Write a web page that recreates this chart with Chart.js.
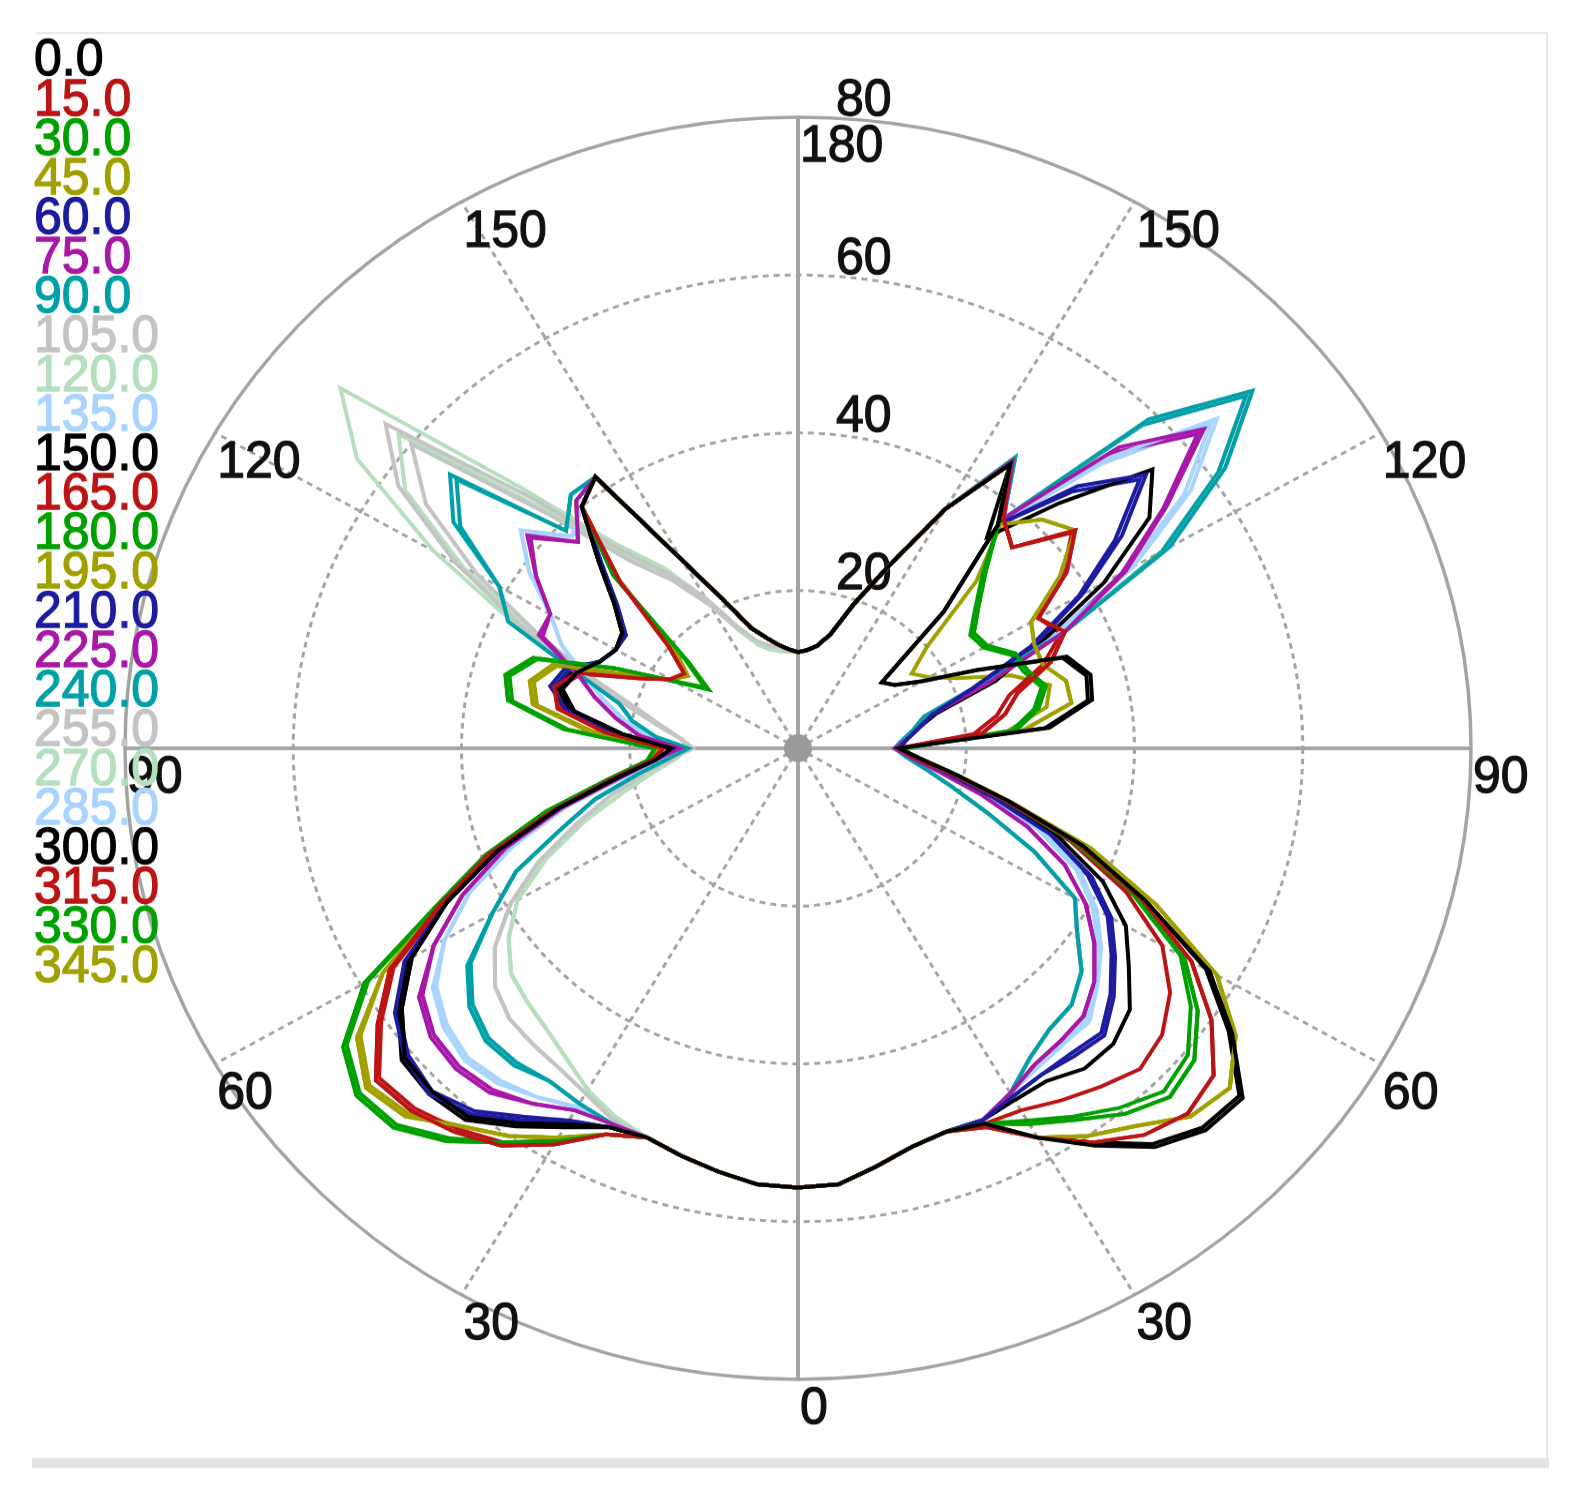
<!DOCTYPE html>
<html>
<head>
<meta charset="utf-8">
<script src="https://cdn.jsdelivr.net/npm/chart.js@4.4.1/dist/chart.umd.min.js"></script>
<style>
html,body{margin:0;padding:0;background:#ffffff;}
#wrap{position:relative;width:1585px;height:1505px;overflow:hidden;background:#fff;}
</style>
</head>
<body>
<div id="wrap"><canvas id="c" width="1585" height="1605" style="position:absolute;left:0;top:0;width:1585px;height:1505px;"></canvas></div>
<script>
// ---------- DATA ----------
// gamma angles (degrees) of the samples, 0 = straight down, 180 = straight up
const GAMMA = [0,5,10,15,20,25,30,35,40,45,50,55,60,65,70,75,80,85,90,95,100,105,110,115,120,125,130,135,140,145,150,155,160,165,170,175,180];
const ANGLE_TICKS = [0,30,60,90,120,150,180];
const RADIAL_TICKS = [20,40,60,80];
const SERIES_NAMES = ['0.0','15.0','30.0','45.0','60.0','75.0','90.0','105.0','120.0','135.0','150.0','165.0','180.0','195.0','210.0','225.0','240.0','255.0','270.0','285.0','300.0','315.0','330.0','345.0'];

// left half: gamma 0..180 (37 values); right half: gamma 5..175 (35 values)
const C000_L = [55.7,55.5,54.5,53.5,52.5, 53,55,58,61,61.5,61,57.5,53,46,38,29.5,22,17, 15,21,27,29,28,26,25,25.5,28.5,33.5,40,42, 27.5,20.5,16.2,14.5,13.3,12.6,12.2];
const C000_R = [55.5,53.8,52.3,51.7, 52.5,57,61.5,66,68.5,69,63,56.5,45.5,36,26,19,14.5, 12,30,35.5,36,34,23.5,17,14,13,24.5,37,44, 35,25.5,19.5,15,13.2,12.5];

const C015_L = [55.7,55.5,54.5,53.5,52.5, 54,58,61.5,63.5,65,65.5,61,56,47,39,30,22.5,17.5, 16,23,29,30,28,21,17.5,16.5,20,30,40,42, 27.5,20.5,16.2,14.5,13.3,12.6,12.2];
const C015_R = [55.5,53.8,52.3,51.7, 53,57,61,64,65.5,64.5,60,54,45,35.5,25.5,18.5,14, 12,22,25,27,32,35,33,39,43,36,38,44, 35,25.5,19.5,15,13.2,12.5];

const C030_L = [55.7,55.5,54.5,53.5,52.5, 54,57.5,61,65,68,68.5,66,59.5,47.5,39.5,31,23,18, 17,28,35,36,33.5,24,17,13,17,31,40,42, 27.5,20.5,16.2,14.5,13.3,12.6,12.2];
const C030_R = [55.5,53.8,52.3,51.7, 52.5,55,57.5,60.5,62.5,61.5,58,53,44.5,35,25.5,18.5,14, 12.5,26,29,30.5,29,28.5,26,25.5,28,31.5,37,44, 35,25.5,19.5,15,13.2,12.5];

const C045_L = [55.7,55.5,54.5,53.5,52.5, 54,57,60,62.5,66,67,64,57,47,39,30.5,22.5,17.5, 16.5,25,32,33,31,22,17.5,16,19,30,40,42, 27.5,20.5,16.2,14.5,13.3,12.6,12.2];
const C045_R = [55.5,53.8,52.3,51.7, 52.5,57,60,62.5,66,67,63.5,57.5,47,37,26,19,14.5, 12,27,33,33,31,31,32,38,43,41,37,44, 35,25.5,19.5,15,13.2,12.5];

const C060_L = [55.7,55.5,54.5,53.5,52.5, 53,54.5,57.5,60.5,62,61,58.5,54,46,38,29.5,22,17, 15,22,28,30.5,29.5,26,25,25,28,33,40,42, 27.5,20.5,16.2,14.5,13.3,12.6,12.2];
const C060_R = [55.5,53.8,52.3,51.7, 52,51,50.5,51,51.5,49,46,43,38.5,32,24,18,14, 12,13,14.5,16.5,22,31,39,47,54,47,37,44, 35,25.5,19.5,15,13.2,12.5];

const C075_L = [55.7,55.5,54.5,53.5,52.5, 52.5,53,55,57,57.5,57,55,50,44,37,29,21.5,17, 14,19,22,25,28,34,34,38,42,37,41,42, 27.5,20.5,16.2,14.5,13.3,12.6,12.2];
const C075_R = [55.5,53.8,52.3,51.7, 52,50.5,49,48.5,48,46,43,39.5,35,29,22.5,17,13.5, 11.5,13,14.5,16.5,24,35,45,53.5,63,54,38,44.5, 35,25.5,19.5,15,13.2,12.5];

const C090_L = [55.7,55.5,54.5,53.5,52.5, 52.5,52,51.5,52.5,52.5,51,48,42,37,30,25,19.5,15.5, 13,17,20,22,28,38,41,50,54,39,42,42, 27.5,20.5,16.2,14.5,13.3,12.6,12.2];
const C090_R = [55.5,53.8,52.3,51.7, 52,50.5,48,46.5,46,44,40.5,38,31,24,19,15.5,13, 11.5,12.5,14,15.5,22,35,51,62,70.5,59,38,45, 35,25.5,19.5,15,13.2,12.5];

const C105_L = [55.7,55.5,54.5,53.5,52.5, 52,50.5,49.5,49,48.5,47,44,39.5,34,28,23,18.5,15, 12.5,14,17,21,27,36,47,58,64,45,33,27, 22,17,14.5,13.5,13,12.5,12.2];
const C105_R = [55.5,53.8,52.3,51.7, 52,50.5,48,46.5,46,44,40.5,38,31,24,19,15.5,13, 11.5,12.5,14,15.5,22,35,51,62,70.5,59,38,45, 35,25.5,19.5,15,13.2,12.5];

const C120_L = [55.7,55.5,54.5,53.5,52.5, 51.5,50,48,46.5,45.5,44.5,42,38.5,33,27,21.5,17.5,14.5, 13,14,17,21,28,37,50,64,71,47,34,28, 22,17,14,13,12.5,12.3,12.2];
const C120_R = [55.5,53.8,52.3,51.7, 52,50.5,48,46.5,46,44,40.5,38,31,24,19,15.5,13, 11.5,12.5,14,15.5,22,35,51,62,70.5,59,38,45, 35,25.5,19.5,15,13.2,12.5];

const C135_L = [55.7,55.5,54.5,53.5,52.5, 52.5,52.5,54,55.5,56,55,53,48.5,43,36,28.5,21,16.5, 13.5,18,21,24,27,31,34,39,43,38,40,42, 27.5,20.5,16.2,14.5,13.3,12.6,12.2];
const C135_R = [55.5,53.8,52.3,51.7, 52,50.5,49.5,49,49,46.5,44,41,37,31,23.5,17.5,13.5, 11.5,12.5,14,16,23,34,46,57,65,52,37,44, 35,25.5,19.5,15,13.2,12.5];

const C150_L = [55.7,55.5,54.5,53.5,52.5, 53,55.5,58.5,61.5,62,61.5,58,53.5,46,38,29.5,22,17, 15,21.5,27.5,29.5,28.5,26,25,25.5,28.5,33.5,40,42, 27.5,20.5,16.2,14.5,13.3,12.6,12.2];
const C150_R = [55.5,53.8,52.3,51.7, 52,51.5,51.5,53,53,51.5,48,45,40,33,24.5,18,14, 12,13,14.5,17,25,32,42,51,55,44,35,44, 35,25.5,19.5,15,13.2,12.5];

const C165_L = [55.7,55.5,54.5,53.5,52.5, 54,57.5,61,63,64.5,65,60.5,55.5,46.5,39,30,22.5,17.5, 16,22.5,28.5,29.5,27.5,21,17.5,16.5,20,30,40,42, 27.5,20.5,16.2,14.5,13.3,12.6,12.2];
const C165_R = [55.5,53.8,52.3,51.7, 52.5,53,54.5,56,57.5,56.5,54,50,43,34.5,25,18,14, 12,21,24,26,31,34.5,33,38.5,42.5,36,38,44, 35,25.5,19.5,15,13.2,12.5];

const C180_L = [55.7,55.5,54.5,53.5,52.5, 54,57.5,61,64.5,67.5,68,65.5,59,47.5,39.5,31,23,18, 17,27.5,34.5,35.5,33,24,17,13.5,17.5,31,40,42, 27.5,20.5,16.2,14.5,13.3,12.6,12.2];
const C180_R = [55.5,53.8,52.3,51.7, 52.5,54.5,57,59.5,61.5,60.5,57,52.5,44,35,25.5,18.5,14, 12.5,25.5,28.5,30,28.5,28,25.5,25,27.5,31,37,44, 35,25.5,19.5,15,13.2,12.5];

const C195_L = [55.7,55.5,54.5,53.5,52.5, 54,57,60,62.5,65.5,66.5,63.5,57,47,39,30.5,22.5,17.5, 16.5,24.5,31.5,32.5,30.5,22,17.5,16,19,30,40,42, 27.5,20.5,16.2,14.5,13.3,12.6,12.2];
const C195_R = [55.5,53.8,52.3,51.7, 52.5,57,60,62.5,66,67,63.5,57.5,47,37,26,19,14.5, 12,25,30,31,27,21,18,16.5,20,30,38,44, 35,25.5,19.5,15,13.2,12.5];

const C210_L = [55.7,55.5,54.5,53.5,52.5, 53,54.5,57,60,61.5,60.5,58,53.5,46,38,29.5,22,17, 15,22,27.5,30,29,26,25,25,28,33,40,42, 27.5,20.5,16.2,14.5,13.3,12.6,12.2];
const C210_R = [55.5,53.8,52.3,51.7, 52,51,50.5,50.5,51,48.5,45.5,42.5,38,31.5,24,18,14, 12,13,14.5,16.5,22,30.5,38.5,46,53,46,37,44, 35,25.5,19.5,15,13.2,12.5];

const C225_L = [55.7,55.5,54.5,53.5,52.5, 52.5,53,55,56.5,57,56.5,54.5,50,44,37,29,21.5,17, 14,19,22,25,28,33.5,34,38,41.5,37,41,42, 27.5,20.5,16.2,14.5,13.3,12.6,12.2];
const C225_R = [55.5,53.8,52.3,51.7, 52,50.5,49,48.5,48,46,43,39.5,35,29,22.5,17,13.5, 11.5,13,14.5,16.5,24,34.5,44.5,53,62,53,38,44.5, 35,25.5,19.5,15,13.2,12.5];

const C240_L = [55.7,55.5,54.5,53.5,52.5, 52.5,52,51.5,52,52,50.5,47.5,42,37,30,25,19.5,15.5, 13,17,20,22,28,38,41,49,53,39,42,42, 27.5,20.5,16.2,14.5,13.3,12.6,12.2];
const C240_R = [55.5,53.8,52.3,51.7, 52,50.5,48,46.5,46,44,40.5,38,31,24,19,15.5,13, 11.5,12.5,14,15.5,22,35,50,61,69.5,58,38,45, 35,25.5,19.5,15,13.2,12.5];

const C255_L = [55.7,55.5,54.5,53.5,52.5, 52,50.5,49.5,49,48.5,47,44,39.5,34,28,23,18.5,15, 12.5,14,16.5,20,26,34,44,54,60,42,31,26, 21,16.5,14.5,13.5,13,12.5,12.2];
const C255_R = [55.5,53.8,52.3,51.7, 52,50.5,48,46.5,46,44,40.5,38,31,24,19,15.5,13, 11.5,12.5,14,15.5,22,35,50,61,69.5,58,38,45, 35,25.5,19.5,15,13.2,12.5];

const C270_L = [55.7,55.5,54.5,53.5,52.5, 51.5,50,48,46.5,45.5,44.5,42,38.5,33,27,21.5,17.5,14.5, 13,14,16.5,20.5,27,35,46,57,62,43,32,27, 21.5,16.5,14,13,12.5,12.3,12.2];
const C270_R = [55.5,53.8,52.3,51.7, 52,50.5,48,46.5,46,44,40.5,38,31,24,19,15.5,13, 11.5,12.5,14,15.5,22,35,50,61,69.5,58,38,45, 35,25.5,19.5,15,13.2,12.5];

const C285_L = [55.7,55.5,54.5,53.5,52.5, 52.5,52.5,54,55,55.5,54.5,52.5,48.5,43,36,28.5,21,16.5, 13.5,18,21,24,27,31,34,39,43,38,40,42, 27.5,20.5,16.2,14.5,13.3,12.6,12.2];
const C285_R = [55.5,53.8,52.3,51.7, 52,50.5,49.5,49,48.5,46,43.5,40.5,36.5,30.5,23.5,17.5,13.5, 11.5,12.5,14,16,22.5,33,45,56,64,51,37,44, 35,25.5,19.5,15,13.2,12.5];

const C300_L = [55.7,55.5,54.5,53.5,52.5, 53,55,58,61,61.5,61,57.5,53,46,38,29.5,22,17, 15,21,27,29,28,26,25,25.5,28.5,33.5,40,42, 27.5,20.5,16.2,14.5,13.3,12.6,12.2];
const C300_R = [55.5,53.8,52.3,51.7, 52.5,57,61,65.5,68,68.5,62.5,56,45.5,36,26,19,14.5, 12,29.5,35,35.5,33.5,23.5,17,14,13,24.5,37,44, 35,25.5,19.5,15,13.2,12.5];

const C315_L = [55.7,55.5,54.5,53.5,52.5, 54,58,61.5,63.5,65,65.5,61,56,47,39,30,22.5,17.5, 16,23,29,30,28,21,17.5,16.5,20,30,40,42, 27.5,20.5,16.2,14.5,13.3,12.6,12.2];
const C315_R = [55.5,53.8,52.3,51.7, 53,57,61,64,65.5,64.5,60,54,45,35.5,25.5,18.5,14, 12,22,25,27,32,35,33,39,43,36,38,44, 35,25.5,19.5,15,13.2,12.5];

const C330_L = [55.7,55.5,54.5,53.5,52.5, 54,57.5,61,65,68,68.5,66,59.5,47.5,39.5,31,23,18, 17,28,35,36,33.5,24,17,13,17,31,40,42, 27.5,20.5,16.2,14.5,13.3,12.6,12.2];
const C330_R = [55.5,53.8,52.3,51.7, 52.5,55,57.5,60.5,62.5,61.5,58,53,44.5,35,25.5,18.5,14, 12.5,26,29,30.5,29,28.5,26,25.5,28,31.5,37,44, 35,25.5,19.5,15,13.2,12.5];

const C345_L = [55.7,55.5,54.5,53.5,52.5, 54,57,60,62.5,66,67,64,57,47,39,30.5,22.5,17.5, 16.5,25,32,33,31,22,17.5,16,19,30,40,42, 27.5,20.5,16.2,14.5,13.3,12.6,12.2];
const C345_R = [55.5,53.8,52.3,51.7, 52.5,57,60,62.5,66,67,63.5,57.5,47,37,26,19,14.5, 12,27,33,33,31,31,32,38,43,41,37,44, 35,25.5,19.5,15,13.2,12.5];

// ---------- STYLE ----------
const SERIES_COLORS = ['#000000','#bc1414','#00a000','#a0a000','#1c1ca0','#a818a8','#00a0a8','#c4c4c4','#b4e0bc','#a8d4ff',
                       '#000000','#bc1414','#00a000','#a0a000','#1c1ca0','#a818a8','#00a0a8','#c4c4c4','#b4e0bc','#a8d4ff',
                       '#000000','#bc1414','#00a000','#a0a000'];

const LEFT = [C000_L,C015_L,C030_L,C045_L,C060_L,C075_L,C090_L,C105_L,C120_L,C135_L,C150_L,C165_L,C180_L,C195_L,C210_L,C225_L,C240_L,C255_L,C270_L,C285_L,C300_L,C315_L,C330_L,C345_L];
const RIGHT = [C000_R,C015_R,C030_R,C045_R,C060_R,C075_R,C090_R,C105_R,C120_R,C135_R,C150_R,C165_R,C180_R,C195_R,C210_R,C225_R,C240_R,C255_R,C270_R,C285_R,C300_R,C315_R,C330_R,C345_R];

// radar labels: left half going up (0..180), then right half coming down (175..5)
const LABELS = GAMMA.concat(GAMMA.slice(1, 36).reverse());

const datasets = SERIES_NAMES.map((name, i) => ({
  label: name,
  data: LEFT[i].concat(RIGHT[i].slice().reverse()),
  borderColor: SERIES_COLORS[i],
  backgroundColor: 'rgba(0,0,0,0)',
  borderWidth: 4,
  fill: false,
  pointRadius: 0,
  pointHoverRadius: 0,
  tension: 0
}));

const K = 1505 / 1605;          // vertical squeeze of the displayed canvas
const TEXT_V = 1.05 / K;        // keeps text proportions after the squeeze
const FONT = '50px "Liberation Sans", Arial, sans-serif';

function drawText(ctx, txt, x, y, color) {
  ctx.save();
  ctx.translate(x, y);
  ctx.scale(1, TEXT_V);
  ctx.fillStyle = color;
  ctx.strokeStyle = color;
  ctx.lineWidth = 1.2;
  ctx.textAlign = 'left';
  ctx.textBaseline = 'middle';
  ctx.font = FONT;
  ctx.fillText(txt, 0, 0);
  ctx.strokeText(txt, 0, 0);
  ctx.restore();
}

const decorPlugin = {
  id: 'decor',
  beforeDraw(chart) {
    const ctx = chart.ctx;
    ctx.save();
    ctx.fillStyle = '#ffffff';
    ctx.fillRect(0, 0, chart.width, chart.height);
    ctx.fillStyle = '#e8e8e8';
    ctx.fillRect(36, 32 / K, 1512, 2 / K);
    ctx.fillRect(1546, 32 / K, 2, (1462 - 32) / K);
    ctx.fillStyle = '#e3e3e3';
    ctx.fillRect(32, 1458 / K, 1517, 10 / K);
    ctx.restore();
  },
  beforeDatasetsDraw(chart) {
    const ctx = chart.ctx;
    const r = chart.scales.r;
    // centre dot
    ctx.save();
    ctx.fillStyle = '#9a9a9a';
    ctx.beginPath();
    ctx.ellipse(r.xCenter, r.yCenter, 14, 14 / K, 0, 0, Math.PI * 2);
    ctx.fill();
    ctx.restore();
    // radial tick labels
    RADIAL_TICKS.forEach(v => {
      const d = r.getDistanceFromCenterForValue(v);
      drawText(ctx, String(v), r.xCenter + 38, r.yCenter - d - 16 / K, '#111111');
    });
    // angle labels
    LABELS.forEach((g, i) => {
      if (ANGLE_TICKS.indexOf(g) < 0) return;
      const p = r.getPointPosition(i, r.drawingArea);
      drawText(ctx, String(g), p.x + 2, p.y + 30 / K, '#111111');
    });
  },
  afterDraw(chart) {
    const ctx = chart.ctx;
    SERIES_NAMES.forEach((name, i) => {
      drawText(ctx, name, 34, (61 + i * 39.4) / K, SERIES_COLORS[i]);
    });
  }
};

const isSpoke = ctx => LABELS[ctx.index] % 30 === 0;
const isAxis = ctx => LABELS[ctx.index] % 90 === 0;

new Chart(document.getElementById('c'), {
  type: 'radar',
  data: { labels: LABELS, datasets: datasets },
  options: {
    responsive: false,
    animation: false,
    devicePixelRatio: 1,
    layout: { padding: { left: 125, right: 114, top: 125, bottom: 134 } },
    plugins: { legend: { display: false }, tooltip: { enabled: false } },
    elements: { line: { tension: 0, fill: false }, point: { radius: 0, hoverRadius: 0 } },
    scales: {
      r: {
        min: 0,
        max: 80,
        startAngle: 180,
        ticks: { display: false, stepSize: 20 },
        pointLabels: { display: false },
        grid: {
          circular: true,
          color: '#a4a4a4',
          lineWidth: ctx => (ctx.tick && ctx.tick.value === 80) ? 3.5 : 3
        },
        border: { dash: ctx => (ctx.tick && ctx.tick.value === 80) ? [] : [6, 5] },
        angleLines: {
          display: true,
          color: ctx => isSpoke(ctx) ? '#a4a4a4' : 'rgba(0,0,0,0)',
          lineWidth: ctx => isAxis(ctx) ? 4 : (isSpoke(ctx) ? 3 : 0),
          borderDash: ctx => isAxis(ctx) ? [] : [6, 5]
        }
      }
    }
  },
  plugins: [decorPlugin]
});
</script>
</body>
</html>
